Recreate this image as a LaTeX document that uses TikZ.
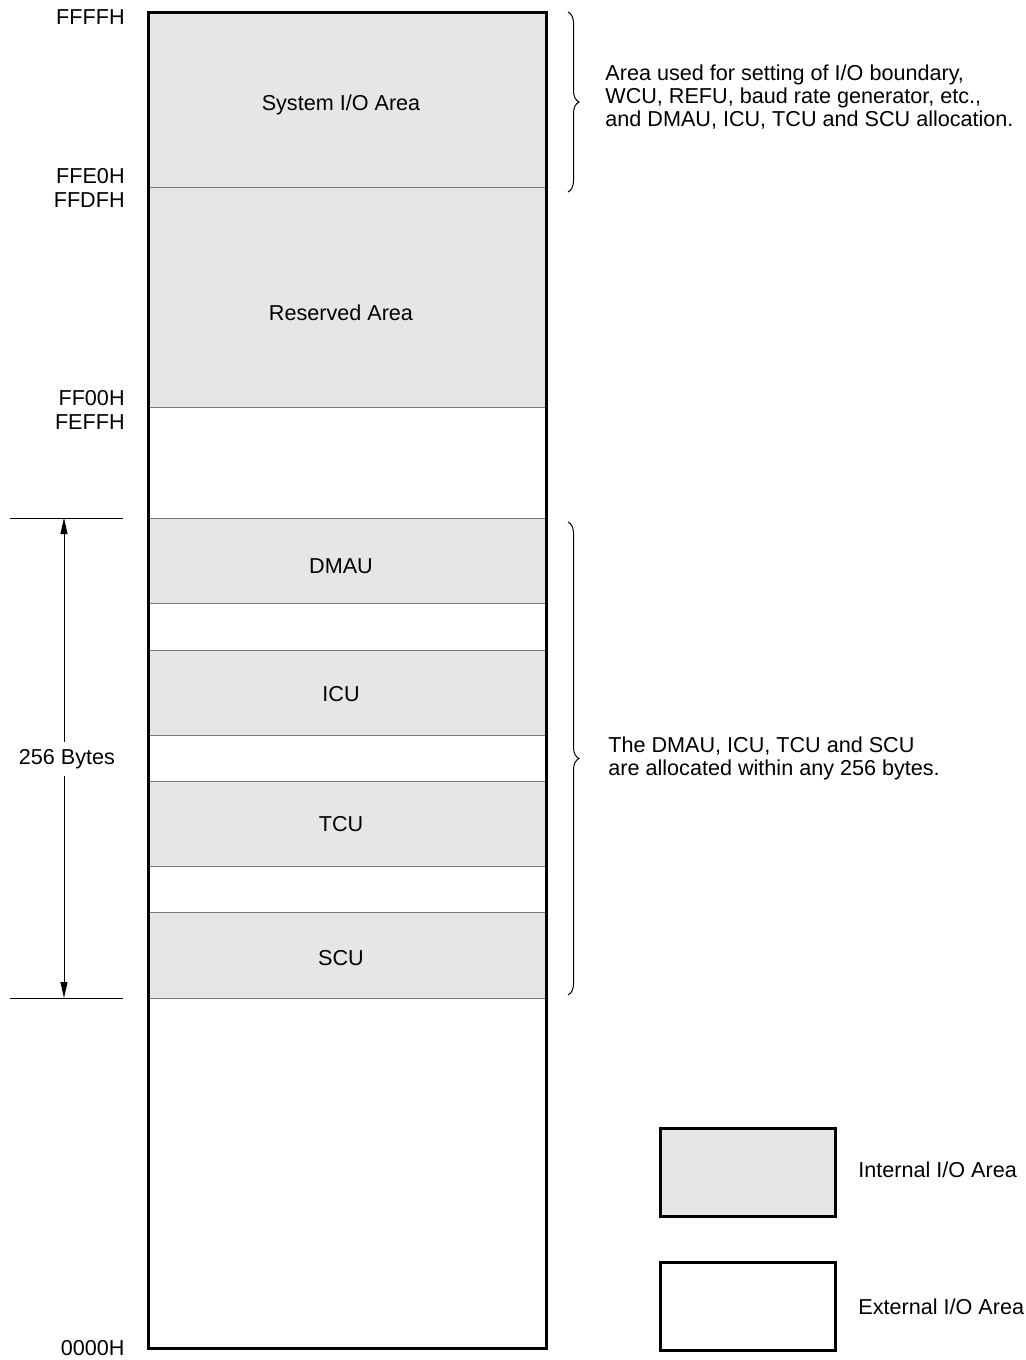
\documentclass[tikz,border=0pt]{standalone}
\usepackage{fontspec}
\setmainfont{Liberation Sans}
\usetikzlibrary{calc,decorations.pathreplacing,arrows.meta}
\definecolor{areafill}{RGB}{230,230,230}
\definecolor{divgray}{RGB}{120,120,120}
\tikzset{
    lab/.style={
        font=\fontsize{10.8}{11.5}\selectfont, inner sep=0pt
    }
}

\begin{document}
\begin{tikzpicture}[x=0.5pt,y=-0.5pt, line cap=butt, line join=miter]

% background
\useasboundingbox (0,0) rectangle (1026,1360);

\tikzset{
  frame/.style={draw=black, line width=1.5pt},
  divline/.style={draw=divgray, line width=0.5pt},
  inarea/.style={fill=areafill},
  dimline/.style={draw=black, line width=0.5pt},
  dimtip/.style={dimline, -{Triangle[length=8pt,width=3.5pt]}},
  brc/.style={draw=black, line width=0.5pt, decorate, decoration={brace, amplitude=5.5pt}},
}

% coordinates of the map
\coordinate (TL) at (148,12);
\coordinate (BR) at (546,1348);

% internal areas
\fill[inarea] (148,12) rectangle (546,187);
\fill[inarea] (148,187) rectangle (546,407);
\fill[inarea] (148,518) rectangle (546,603);
\fill[inarea] (148,650) rectangle (546,735);
\fill[inarea] (148,781) rectangle (546,866);
\fill[inarea] (148,912) rectangle (546,998);

% dividers
\foreach \y in {187,407,518,603,650,735,781,866,912,998}
  \draw[divline] (148,\y) -- (546,\y);

\draw[frame] (TL) rectangle (BR);

% area labels
\node[lab] (sysio) at (341,105) {System I/O Area};
\node[lab] (resv)  at (341,313) {Reserved Area};
\node[lab] (dmau)  at (341,566) {DMAU};
\node[lab] (icu)   at (341,694) {ICU};
\node[lab] (tcu)   at (341,824) {TCU};
\node[lab] (scu)   at (341,958) {SCU};

% addresses
\node[lab, anchor=east] (a0) at (125,17)   {FFFFH};
\node[lab, anchor=east] (a1) at (125,176)  {FFE0H};
\node[lab, anchor=east] (a2) at (125,200)  {FFDFH};
\node[lab, anchor=east] (a3) at (125,398)  {FF00H};
\node[lab, anchor=east] (a4) at (125,422)  {FEFFH};
\node[lab, anchor=east] (a5) at (125,1348) {0000H};

% 256 bytes dimension
\coordinate (DT) at (64,518);
\coordinate (DB) at (64,998);
\draw[dimline] (10,518) -- (123,518);
\draw[dimline] (10,998) -- (123,998);
\node[lab, fill=white, inner sep=3.5pt] (bytes) at (67,759) {256 Bytes};
\draw[dimtip] (bytes.north -| DT) -- (DT);
\draw[dimtip] (bytes.south -| DB) -- (DB);

% braces
\draw[brc] (568,12) -- (568,192);
\draw[brc] (568,522) -- (568,995);

% notes
\node[lab, anchor=west, align=left] (note1) at (605,97)
  {Area used for setting of I/O boundary,\\WCU, REFU, baud rate generator, etc.,\\and DMAU, ICU, TCU and SCU allocation.};
\node[lab, anchor=west, align=left] (note2) at (608,758)
  {The DMAU, ICU, TCU and SCU\\are allocated within any 256 bytes.};

% legend
\draw[frame, inarea] (660,1128) rectangle (835,1216);
\draw[frame] (660,1262) rectangle (835,1350);
\node[lab, anchor=west] (legin)  at (858,1170) {Internal I/O Area};
\node[lab, anchor=west] (legext) at (858,1307) {External I/O Area};

\end{tikzpicture}
\end{document}
